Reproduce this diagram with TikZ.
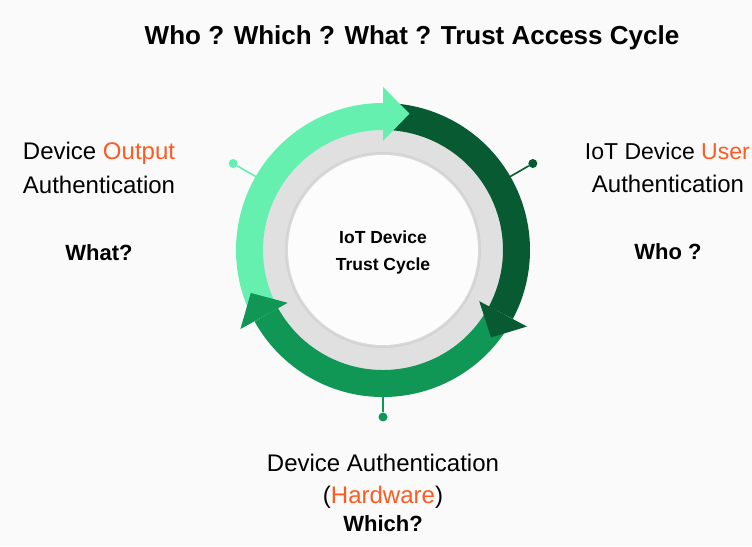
\documentclass[tikz,border=0pt]{standalone}
\usepackage{fontspec}
\setmainfont{Liberation Sans}
\usetikzlibrary{calc}

\definecolor{lightgrn}{RGB}{102,240,176}
\definecolor{darkgrn}{RGB}{7,90,50}
\definecolor{midgrn}{RGB}{16,150,85}
\definecolor{orng}{RGB}{255,90,31}
\definecolor{bggray}{RGB}{250,250,250}
\definecolor{ringgray}{RGB}{224,224,224}

\tikzset{
  sidetext/.style={anchor=base, inner sep=0pt, font=\fontsize{24}{24}\selectfont},
  question/.style={anchor=base, inner sep=0pt, font=\fontsize{22}{22}\selectfont\bfseries},
  ringband/.style={line width=27pt},
  pindot/.style={circle, fill, inner sep=0pt, minimum size=9pt},
  pinline/.style={line width=1.6pt},
}

\begin{document}
\begin{tikzpicture}[x=1pt,y=1pt]

\fill [bggray] (0,0) rectangle (752,546);
\useasboundingbox (0,0) rectangle (752,546);

\node [anchor=base, inner sep=0pt, font=\fontsize{26}{26}\selectfont\bfseries] (title) at (412,501) {Who ? Which ? What ? Trust Access Cycle};

% the ring
\coordinate (c) at (383,296);
\fill [ringgray] (c) circle (121);
\fill [black!6!ringgray] (c) circle (98);
\fill [black!3!ringgray] (c) circle (96.5);
\fill [white!40!bggray] (c) circle (95);

\draw [ringband, lightgrn] ($(c)+(204:133.5)$) arc [start angle=204, end angle=90, radius=133.5];
\draw [ringband, darkgrn] ($(c)+(85:133.5)$) arc [start angle=85, end angle=-28, radius=133.5];
\draw [ringband, midgrn] ($(c)+(-33:133.5)$) arc [start angle=-33, end angle=-151, radius=133.5];

% arrow heads
\fill [lightgrn] ($(c)+(90:109)$) -- ($(c)+(79:139)$) -- ($(c)+(90:163)$) -- cycle;
\fill [darkgrn] ($(c)+(-28:109)$) -- ($(c)+(-39:139)$) -- ($(c)+(-28:163)$) -- cycle;
\fill [midgrn] ($(c)+(209:109)$) -- ($(c)+(198:139)$) -- ($(c)+(209:163)$) -- cycle;

\node [anchor=base, inner sep=0pt, font=\fontsize{17.5}{17.5}\selectfont\bfseries] (cycle1) at (383,302) {IoT Device};
\node [anchor=base, inner sep=0pt, font=\fontsize{17.5}{17.5}\selectfont\bfseries] (cycle2) at (383,275) {Trust Cycle};

% pins
\coordinate (leftend) at ($(c)+(150:146)$);
\node [pindot, lightgrn] (leftdot) at ($(c)+(150:173)$) {};
\draw [pinline, lightgrn] (leftend) -- (leftdot);

\coordinate (rightend) at ($(c)+(30:146)$);
\node [pindot, darkgrn] (rightdot) at ($(c)+(30:173)$) {};
\draw [pinline, darkgrn] (rightend) -- (rightdot);

\coordinate (bottomend) at ($(c)+(-90:146)$);
\node [pindot, midgrn] (bottomdot) at ($(c)+(-90:167)$) {};
\draw [pinline, midgrn] (bottomend) -- (bottomdot);

% left: what
\node [sidetext] (left1) at (99,386) {Device \textcolor{orng}{Output}};
\node [sidetext] (left2) at (99,352) {Authentication};
\node [question] (left3) at (99,285) {What?};

% right: who
\node [sidetext, anchor=base east, font=\fontsize{23}{23}\selectfont] (right1) at (750,386) {IoT Device \textcolor{orng}{User}};
\node [sidetext] (right2) at (668,353) {Authentication};
\node [question] (right3) at (668,286) {Who ?};

% bottom: which
\node [sidetext] (bottom1) at (383,74) {Device Authentication};
\node [sidetext] (bottom2) at (383,42) {(\textcolor{orng}{Hardware})};
\node [question] (bottom3) at (383,14) {Which?};

\end{tikzpicture}
\end{document}
